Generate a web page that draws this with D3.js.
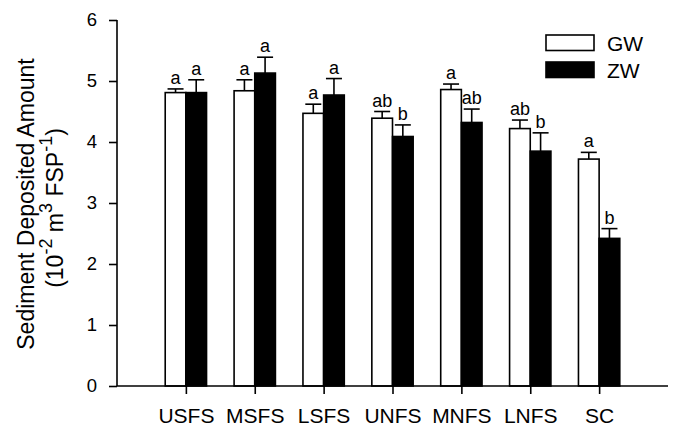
<!DOCTYPE html>
<meta charset="utf-8">
<style>
body { margin: 0; background: #fff; }
text { font-family: "Liberation Sans", Arial, sans-serif; fill: #000; }
</style>
<body>
<script src="https://d3js.org/d3.v7.min.js"></script>
<script>

// data
var categories = ["USFS", "MSFS", "LSFS", "UNFS", "MNFS", "LNFS", "SC"];
var gwMean = [4.81, 4.84, 4.47, 4.39, 4.86, 4.22, 3.72];
var gwErr  = [0.06, 0.18, 0.15, 0.11, 0.09, 0.14, 0.11];
var zwMean = [4.81, 5.13, 4.77, 4.09, 4.32, 3.85, 2.42];
var zwErr  = [0.21, 0.26, 0.27, 0.19, 0.22, 0.30, 0.16];
var gwLetters = ["a", "a", "a", "ab", "a", "ab", "a"];
var zwLetters = ["a", "a", "a", "b", "ab", "b", "b"];
var yTicks = [0, 1, 2, 3, 4, 5, 6];

var W = 675, H = 427;
var svg = d3.select("body").append("svg")
    .attr("width", W)
    .attr("height", H);

// scales: categories sit at 1..7 on a 0..8 axis
var x = d3.scaleLinear().domain([0, 8]).range([117, 668]);
var y = d3.scaleLinear().domain([0, 6]).range([386, 20]);
var barW = 0.3; // in x units
var capHalf = 8;

var series = [
  {name: "GW", mean: gwMean, err: gwErr, letters: gwLetters, fill: "#fff", off: -barW},
  {name: "ZW", mean: zwMean, err: zwErr, letters: zwLetters, fill: "#000", off: 0}
];

series.forEach(function(s) {
  var g = svg.append("g");
  categories.forEach(function(c, i) {
    var x0 = x(i + 1 + s.off), x1 = x(i + 1 + s.off + barW);
    var cx = (x0 + x1) / 2;
    var top = y(s.mean[i]), cap = y(s.mean[i] + s.err[i]);
    // error bar (upper only)
    g.append("line").attr("x1", cx).attr("x2", cx).attr("y1", top).attr("y2", cap)
      .attr("stroke", "#000").attr("stroke-width", 1.6);
    g.append("line").attr("x1", cx - capHalf).attr("x2", cx + capHalf).attr("y1", cap).attr("y2", cap)
      .attr("stroke", "#000").attr("stroke-width", 1.6);
    // bar
    g.append("rect")
      .attr("x", x0).attr("y", top)
      .attr("width", x1 - x0).attr("height", y(0) - top)
      .attr("fill", s.fill).attr("stroke", "#000").attr("stroke-width", 1.6);
    // significance letter
    g.append("text")
      .attr("x", cx).attr("y", cap - 5)
      .attr("text-anchor", "middle")
      .style("font-size", "18px")
      .text(s.letters[i]);
  });
});

// y axis
var yAxis = svg.append("g")
    .attr("transform", "translate(117,0)")
    .call(d3.axisLeft(y).tickValues(yTicks).tickSize(8).tickPadding(12).tickFormat(d3.format("d")));
yAxis.selectAll("text").style("font-size", "18.5px").style("font-family", "Liberation Sans, Arial, sans-serif");

// x axis
var xAxis = svg.append("g")
    .attr("transform", "translate(0,386)")
    .call(d3.axisBottom(x).tickValues(d3.range(1, 8)).tickSize(8).tickPadding(14)
      .tickFormat(function(d) { return categories[d - 1]; }));
xAxis.selectAll("text").style("font-size", "21px").style("font-family", "Liberation Sans, Arial, sans-serif");

svg.selectAll(".domain").attr("stroke", "#000").attr("stroke-width", 1.6);
svg.selectAll(".tick line").attr("stroke", "#000").attr("stroke-width", 1.6);
yAxis.select(".domain").attr("d", "M0," + y(6) + "H0V" + y(0));
xAxis.select(".domain").attr("d", "M" + x(0) + ",0H" + x(8));

// y title
svg.append("text")
    .attr("transform", "translate(34,204) rotate(-90)")
    .attr("text-anchor", "middle")
    .style("font-size", "23px")
    .text("Sediment Deposited Amount");

var t2 = svg.append("text")
    .attr("transform", "translate(63,208) rotate(-90)")
    .attr("text-anchor", "middle")
    .style("font-size", "23px");
t2.append("tspan").text("(10");
t2.append("tspan").attr("dy", -11).style("font-size", "18px").text("-2");
t2.append("tspan").attr("dy", 11).text(" m");
t2.append("tspan").attr("dy", -11).style("font-size", "18px").text("3");
t2.append("tspan").attr("dy", 11).text(" FSP");
t2.append("tspan").attr("dy", -11).style("font-size", "18px").text("-1");
t2.append("tspan").attr("dy", 11).text(")");

// legend
var legend = svg.append("g");
series.forEach(function(s, i) {
  var ly = 35 + i * 27;
  legend.append("rect")
    .attr("x", 546).attr("y", ly)
    .attr("width", 48).attr("height", 15.5)
    .attr("fill", s.fill).attr("stroke", "#000").attr("stroke-width", 1.6);
  legend.append("text")
    .attr("x", 607).attr("y", ly + 8)
    .attr("dominant-baseline", "central")
    .style("font-size", "21px")
    .text(s.name);
});

</script>
</body>
